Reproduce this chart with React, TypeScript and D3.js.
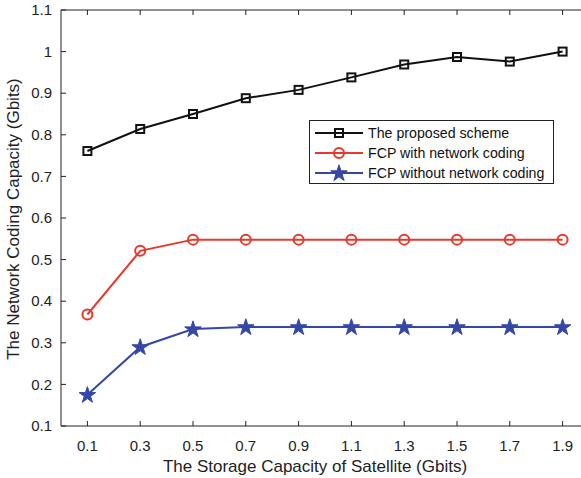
import { useEffect, useRef } from "react";
import * as d3 from "d3";

const W = 581;
const H = 478;
const MARGIN = { top: 10, left: 61, bottom: 426, right: 589 };

const storage = [0.1, 0.3, 0.5, 0.7, 0.9, 1.1, 1.3, 1.5, 1.7, 1.9];
const proposed = [0.761, 0.814, 0.85, 0.888, 0.908, 0.938, 0.969, 0.987, 0.976, 1.0];
const fcpWith = [0.368, 0.521, 0.548, 0.548, 0.548, 0.548, 0.548, 0.548, 0.548, 0.548];
const fcpWithout = [0.175, 0.29, 0.333, 0.338, 0.338, 0.338, 0.338, 0.338, 0.338, 0.338];
const yTicks = [0.1, 0.2, 0.3, 0.4, 0.5, 0.6, 0.7, 0.8, 0.9, 1, 1.1];

const seriesNames = ["The proposed scheme", "FCP with network coding", "FCP without network coding"];
const seriesColors = ["#111111", "#e5392c", "#3447a6"];
const seriesMarkers = ["square", "circle", "star"];

const FONT = "'Liberation Sans', Arial, sans-serif";

function drawMarker(g: d3.Selection<SVGGElement, unknown, null, undefined>, kind: string, cx: number, cy: number, color: string) {
  if (kind === "square") {
    g.append("rect").attr("x", cx - 4).attr("y", cy - 4).attr("width", 8).attr("height", 8)
      .attr("fill", "none").attr("stroke", color).attr("stroke-width", 2);
  } else if (kind === "circle") {
    g.append("circle").attr("cx", cx).attr("cy", cy).attr("r", 5)
      .attr("fill", "none").attr("stroke", color).attr("stroke-width", 2);
  } else {
    const star = d3.symbol().type(d3.symbolStar).size(85);
    g.append("path").attr("d", star()).attr("transform", `translate(${cx},${cy + 0.5})`)
      .attr("fill", color).attr("stroke", color).attr("stroke-width", 1);
  }
}

export default function App() {
  const svgRef = useRef<SVGSVGElement>(null);

  useEffect(() => {
    const svg = d3.select(svgRef.current);
    svg.selectAll("*").remove();

    const x = d3.scaleLinear().domain([0, 2]).range([MARGIN.left, MARGIN.right]);
    const y = d3.scaleLinear().domain([0.1, 1.1]).range([MARGIN.bottom, MARGIN.top]);

    // axes frame: left, bottom, top
    const frame = svg.append("g").attr("stroke", "#222").attr("stroke-width", 1);
    frame.append("line").attr("x1", MARGIN.left).attr("x2", MARGIN.left).attr("y1", MARGIN.top).attr("y2", MARGIN.bottom);
    frame.append("line").attr("x1", MARGIN.left).attr("x2", MARGIN.right).attr("y1", MARGIN.bottom).attr("y2", MARGIN.bottom);
    frame.append("line").attr("x1", MARGIN.left).attr("x2", MARGIN.right).attr("y1", MARGIN.top).attr("y2", MARGIN.top);

    // x ticks (inward, bottom and top)
    storage.forEach((v) => {
      frame.append("line").attr("x1", x(v)).attr("x2", x(v)).attr("y1", MARGIN.bottom).attr("y2", MARGIN.bottom - 5);
      frame.append("line").attr("x1", x(v)).attr("x2", x(v)).attr("y1", MARGIN.top).attr("y2", MARGIN.top + 5);
    });
    yTicks.forEach((v) => {
      frame.append("line").attr("x1", MARGIN.left).attr("x2", MARGIN.left + 5).attr("y1", y(v)).attr("y2", y(v));
    });

    svg.append("g").selectAll("text").data(storage).enter().append("text")
      .attr("x", (d) => x(d)).attr("y", MARGIN.bottom + 25)
      .attr("text-anchor", "middle").attr("font-family", FONT).attr("font-size", 15).attr("fill", "#222")
      .text((d) => d.toFixed(1));

    svg.append("g").selectAll("text").data(yTicks).enter().append("text")
      .attr("x", MARGIN.left - 9).attr("y", (d) => y(d)).attr("dy", "0.35em")
      .attr("text-anchor", "end").attr("font-family", FONT).attr("font-size", 15).attr("fill", "#222")
      .text((d) => (d === 1 ? "1" : String(d)));

    svg.append("text").attr("x", 315).attr("y", 472)
      .attr("text-anchor", "middle").attr("font-family", FONT).attr("font-size", 17).attr("fill", "#222")
      .text("The Storage Capacity of Satellite (Gbits)");

    svg.append("text").attr("transform", `translate(19,219) rotate(-90)`)
      .attr("text-anchor", "middle").attr("font-family", FONT).attr("font-size", 17).attr("fill", "#222")
      .text("The Network Coding Capacity (Gbits)");

    const allSeries = [proposed, fcpWith, fcpWithout];
    const line = d3.line<number>().x((_d, i) => x(storage[i])).y((d) => y(d));

    allSeries.forEach((vals, si) => {
      const g = svg.append("g");
      g.append("path").datum(vals).attr("d", line).attr("fill", "none")
        .attr("stroke", seriesColors[si]).attr("stroke-width", 2);
      vals.forEach((v, i) => drawMarker(g, seriesMarkers[si], x(storage[i]), y(v), seriesColors[si]));
    });

    // legend
    const lg = svg.append("g");
    lg.append("rect").attr("x", 309.5).attr("y", 120.5).attr("width", 244).attr("height", 63)
      .attr("fill", "#fff").attr("stroke", "#222").attr("stroke-width", 1);
    seriesNames.forEach((name, i) => {
      const ly = 133 + i * 20;
      lg.append("line").attr("x1", 315).attr("x2", 363).attr("y1", ly).attr("y2", ly)
        .attr("stroke", seriesColors[i]).attr("stroke-width", 2);
      drawMarker(lg, seriesMarkers[i], 339, ly, seriesColors[i]);
      lg.append("text").attr("x", 368).attr("y", ly).attr("dy", "0.35em")
        .attr("font-family", FONT).attr("font-size", 14.2).attr("fill", "#111").text(name);
    });
  }, []);

  return (
    <svg ref={svgRef} width={W} height={H}
      style={{ position: "absolute", left: 0, top: 0, display: "block", background: "#fff" }} />
  );
}
